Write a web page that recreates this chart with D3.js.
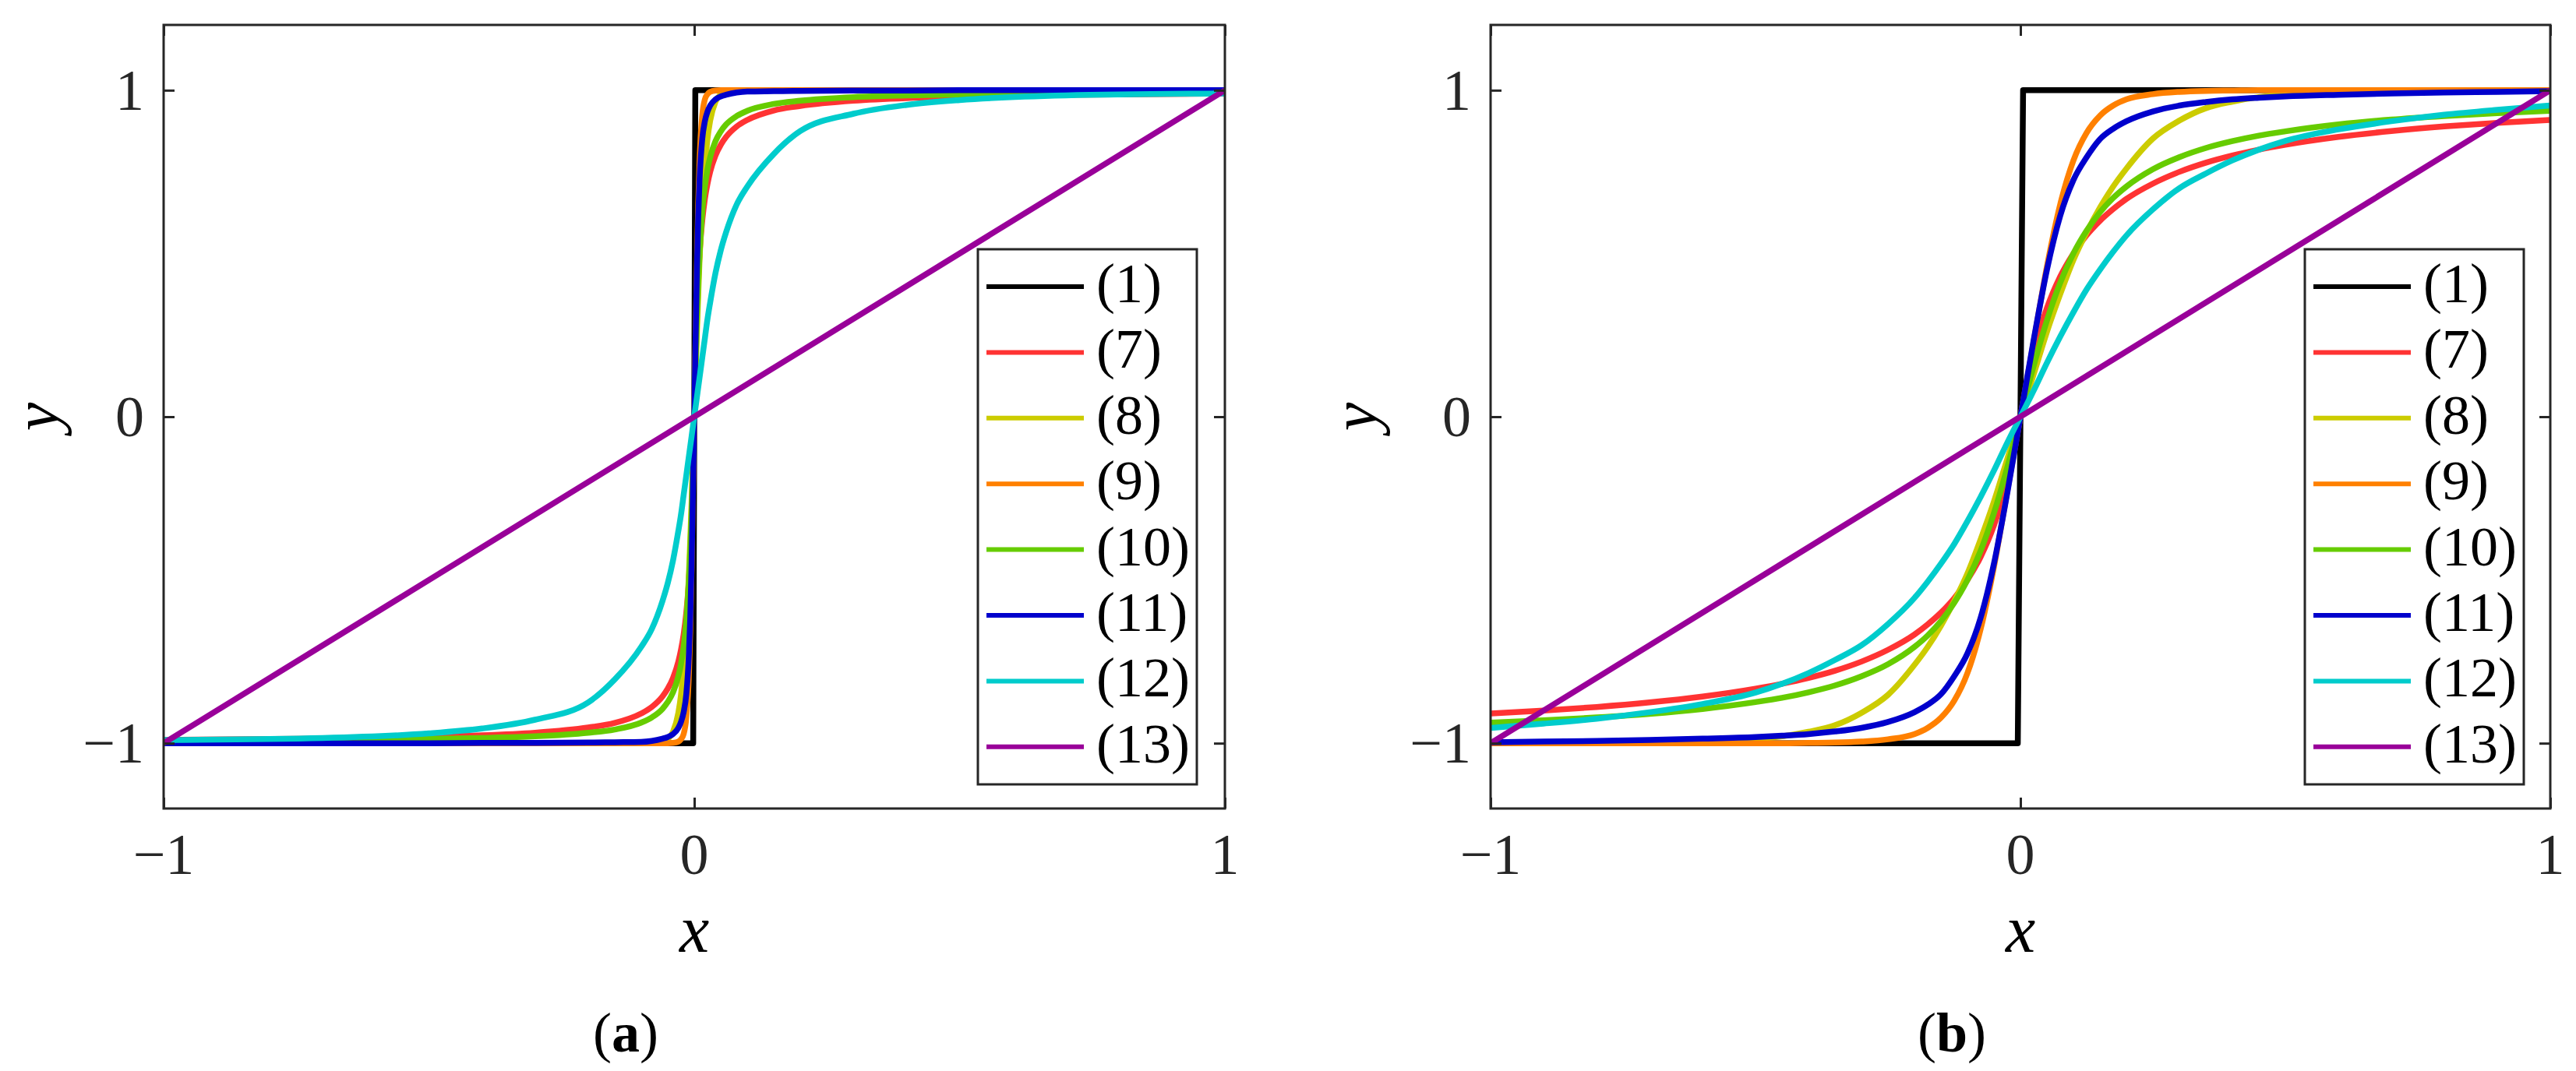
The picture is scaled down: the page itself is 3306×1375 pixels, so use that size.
<!DOCTYPE html>
<html>
<head>
<meta charset="utf-8">
<script src="https://cdn.jsdelivr.net/npm/d3@7/dist/d3.min.js"></script>
<style>
  html, body { margin: 0; padding: 0; background: #fff; }
  svg { display: block; }
</style>
</head>
<body>
<svg id="chart" width="3306" height="1375"></svg>
<script>
// ---------------- DATA ----------------
const legendLabels = ["(1)", "(7)", "(8)", "(9)", "(10)", "(11)", "(12)", "(13)"];
const seriesColors = ["#000000", "#ff3333", "#cccc00", "#ff8000", "#66cc00", "#0000cc", "#00cccc", "#990099"];
const tickValues = [-1, 0, 1];
const tickLabels = ["\u22121", "0", "1"];
const panelLabels = ["a", "b"];

// Panel (a)
const xA = [-1, -0.7, -0.5, -0.4, -0.3, -0.2, -0.15, -0.1, -0.08, -0.06, -0.05, -0.04, -0.03, -0.025, -0.02, -0.015, -0.01, -0.0075, -0.005, -0.0025,
  0, 0.0025, 0.005, 0.0075, 0.01, 0.015, 0.02, 0.025, 0.03, 0.04, 0.05, 0.06, 0.08, 0.1, 0.15, 0.2, 0.3, 0.4, 0.5, 0.7, 1];
const a1x = [-1, -0.002, 0.002, 1];
const a1y = [-1, -1, 1, 1];
const a7 = [-0.99, -0.986, -0.98, -0.976, -0.968, -0.952, -0.938, -0.909, -0.889, -0.857, -0.833, -0.8, -0.75, -0.714, -0.667, -0.6, -0.5, -0.429, -0.333, -0.2,
  0, 0.2, 0.333, 0.429, 0.5, 0.6, 0.667, 0.714, 0.75, 0.8, 0.833, 0.857, 0.889, 0.909, 0.938, 0.952, 0.968, 0.976, 0.98, 0.986, 0.99];
const a8 = [-1, -1, -1, -1, -1, -1, -1, -1, -0.999, -0.995, -0.987, -0.965, -0.907, -0.852, -0.76, -0.64, -0.48, -0.375, -0.26, -0.13,
  0, 0.13, 0.26, 0.375, 0.48, 0.64, 0.76, 0.852, 0.907, 0.965, 0.987, 0.995, 0.999, 1, 1, 1, 1, 1, 1, 1, 1];
const a9 = [-1, -1, -1, -1, -1, -1, -1, -1, -1, -1, -1, -0.999, -0.995, -0.988, -0.972, -0.922, -0.785, -0.65, -0.46, -0.23,
  0, 0.23, 0.46, 0.65, 0.785, 0.922, 0.972, 0.988, 0.995, 0.999, 1, 1, 1, 1, 1, 1, 1, 1, 1, 1, 1];
const a10 = [-0.994, -0.991, -0.987, -0.984, -0.979, -0.968, -0.958, -0.937, -0.921, -0.895, -0.874, -0.844, -0.795, -0.758, -0.705, -0.626, -0.5, -0.41, -0.295, -0.156,
  0, 0.156, 0.295, 0.41, 0.5, 0.626, 0.705, 0.758, 0.795, 0.844, 0.874, 0.895, 0.921, 0.937, 0.958, 0.968, 0.979, 0.984, 0.987, 0.991, 0.994];
const a11 = [-1, -1, -1, -0.999, -0.999, -0.998, -0.997, -0.996, -0.993, -0.986, -0.981, -0.972, -0.953, -0.935, -0.905, -0.85, -0.725, -0.615, -0.45, -0.235,
  0, 0.235, 0.45, 0.615, 0.725, 0.85, 0.905, 0.935, 0.953, 0.972, 0.981, 0.986, 0.993, 0.996, 0.997, 0.998, 0.999, 0.999, 1, 1, 1];
const a12 = [-0.99, -0.984, -0.97, -0.955, -0.928, -0.875, -0.805, -0.705, -0.65, -0.565, -0.51, -0.44, -0.35, -0.3, -0.24, -0.18, -0.12, -0.09, -0.06, -0.03,
  0, 0.03, 0.06, 0.09, 0.12, 0.18, 0.24, 0.3, 0.35, 0.44, 0.51, 0.565, 0.65, 0.705, 0.805, 0.875, 0.928, 0.955, 0.97, 0.984, 0.99];
const a13x = [-1, 1];
const a13y = [-1, 1];

// Panel (b)
const xB = [-1, -0.9, -0.8, -0.7, -0.6, -0.5, -0.45, -0.4, -0.35, -0.3, -0.25, -0.2, -0.175, -0.15, -0.125, -0.1, -0.075, -0.05, -0.025,
  0, 0.025, 0.05, 0.075, 0.1, 0.125, 0.15, 0.175, 0.2, 0.25, 0.3, 0.35, 0.4, 0.45, 0.5, 0.6, 0.7, 0.8, 0.9, 1];
const b1x = [-1, -0.005, 0.005, 1];
const b1y = [-1, -1, 1, 1];
const b7 = [-0.909, -0.9, -0.889, -0.875, -0.857, -0.833, -0.818, -0.8, -0.778, -0.75, -0.714, -0.667, -0.636, -0.6, -0.556, -0.5, -0.429, -0.333, -0.2,
  0, 0.2, 0.333, 0.429, 0.5, 0.556, 0.6, 0.636, 0.667, 0.714, 0.75, 0.778, 0.8, 0.818, 0.833, 0.857, 0.875, 0.889, 0.9, 0.909];
const b8 = [-1, -1, -0.999, -0.998, -0.995, -0.987, -0.979, -0.965, -0.945, -0.907, -0.852, -0.76, -0.705, -0.64, -0.565, -0.48, -0.375, -0.26, -0.13,
  0, 0.13, 0.26, 0.375, 0.48, 0.565, 0.64, 0.705, 0.76, 0.852, 0.907, 0.945, 0.965, 0.979, 0.987, 0.995, 0.998, 0.999, 1, 1];
const b9 = [-1, -1, -1, -1, -1, -1, -1, -0.999, -0.998, -0.995, -0.988, -0.972, -0.953, -0.922, -0.87, -0.785, -0.65, -0.46, -0.23,
  0, 0.23, 0.46, 0.65, 0.785, 0.87, 0.922, 0.953, 0.972, 0.988, 0.995, 0.998, 0.999, 1, 1, 1, 1, 1, 1, 1];
const b10 = [-0.937, -0.93, -0.921, -0.91, -0.895, -0.874, -0.861, -0.844, -0.823, -0.795, -0.758, -0.705, -0.67, -0.626, -0.57, -0.5, -0.41, -0.295, -0.156,
  0, 0.156, 0.295, 0.41, 0.5, 0.57, 0.626, 0.67, 0.705, 0.758, 0.795, 0.823, 0.844, 0.861, 0.874, 0.895, 0.91, 0.921, 0.93, 0.937];
const b11 = [-0.997, -0.995, -0.993, -0.99, -0.986, -0.981, -0.977, -0.972, -0.964, -0.953, -0.935, -0.905, -0.882, -0.85, -0.795, -0.725, -0.615, -0.45, -0.235,
  0, 0.235, 0.45, 0.615, 0.725, 0.795, 0.85, 0.882, 0.905, 0.935, 0.953, 0.964, 0.972, 0.977, 0.981, 0.986, 0.99, 0.993, 0.995, 0.997];
const b12 = [-0.953, -0.94, -0.925, -0.905, -0.88, -0.845, -0.818, -0.785, -0.745, -0.7, -0.635, -0.555, -0.505, -0.45, -0.39, -0.32, -0.245, -0.165, -0.08,
  0, 0.08, 0.165, 0.245, 0.32, 0.39, 0.45, 0.505, 0.555, 0.635, 0.7, 0.745, 0.785, 0.818, 0.845, 0.88, 0.905, 0.925, 0.94, 0.953];
const b13x = [-1, 1];
const b13y = [-1, 1];

// ---------------- DRAW ----------------
const svg = d3.select("#chart");
svg.append("rect").attr("width", 3306).attr("height", 1375).attr("fill", "#fff");

const axisColor = "#262626";
const serif = "'Liberation Serif', 'Times New Roman', serif";

function zipXY(xs, ys) { return xs.map((x, i) => [x, ys[i]]); }

const panels = [
  {
    left: 210, right: 1572, legendLeft: 1255, yLabelX: 74, captionX: 803, label: panelLabels[0],
    series: [zipXY(a1x, a1y), zipXY(xA, a7), zipXY(xA, a8), zipXY(xA, a9), zipXY(xA, a10), zipXY(xA, a11), zipXY(xA, a12), zipXY(a13x, a13y)]
  },
  {
    left: 1913, right: 3273, legendLeft: 2958, yLabelX: 1766, captionX: 2505, label: panelLabels[1],
    series: [zipXY(b1x, b1y), zipXY(xB, b7), zipXY(xB, b8), zipXY(xB, b9), zipXY(xB, b10), zipXY(xB, b11), zipXY(xB, b12), zipXY(b13x, b13y)]
  }
];

const plotTop = 32, plotBottom = 1038;

panels.forEach((p, pi) => {
  const x = d3.scaleLinear().domain([-1, 1]).range([p.left, p.right]);
  const y = d3.scaleLinear().domain([-1.2, 1.2]).range([plotBottom, plotTop]);
  const g = svg.append("g");

  const clipId = "clip" + pi;
  svg.append("clipPath").attr("id", clipId).append("rect")
    .attr("x", p.left).attr("y", plotTop).attr("width", p.right - p.left).attr("height", plotBottom - plotTop);

  // curves
  const plot = g.append("g").attr("clip-path", `url(#${clipId})`);
  p.series.forEach((pts, si) => {
    const straight = (si === 0 || si === 7);
    const line = d3.line().x(d => x(d[0])).y(d => y(d[1]))
      .curve(straight ? d3.curveLinear : d3.curveMonotoneX);
    plot.append("path").datum(pts)
      .attr("d", line)
      .attr("fill", "none")
      .attr("stroke", seriesColors[si])
      .attr("stroke-width", 7.5)
      .attr("stroke-linejoin", "round")
      .attr("stroke-linecap", "butt");
  });

  // axes with inward ticks on all four sides
  const tickLen = 14;
  const axB = d3.axisBottom(x).tickValues(tickValues).tickSize(-tickLen).tickFormat("");
  const axT = d3.axisTop(x).tickValues(tickValues).tickSize(-tickLen).tickFormat("");
  const axL = d3.axisLeft(y).tickValues(tickValues).tickSize(-tickLen).tickFormat("");
  const axR = d3.axisRight(y).tickValues(tickValues).tickSize(-tickLen).tickFormat("");
  [[axB, `translate(0,${plotBottom})`], [axT, `translate(0,${plotTop})`], [axL, `translate(${p.left},0)`], [axR, `translate(${p.right},0)`]]
    .forEach(([ax, tr]) => {
      const ag = g.append("g").attr("transform", tr).call(ax);
      ag.select(".domain").remove();
      ag.selectAll(".tick line").attr("stroke", axisColor).attr("stroke-width", 3);
    });
  g.append("rect")
    .attr("x", p.left).attr("y", plotTop)
    .attr("width", p.right - p.left).attr("height", plotBottom - plotTop)
    .attr("fill", "none").attr("stroke", axisColor).attr("stroke-width", 3);

  // tick labels
  tickValues.forEach((v, i) => {
    g.append("text")
      .attr("x", x(v)).attr("y", 1122)
      .attr("text-anchor", "middle")
      .attr("font-family", serif).attr("font-size", 74).attr("fill", axisColor)
      .text(tickLabels[i]);
    g.append("text")
      .attr("x", p.left - 25).attr("y", y(v) + 25)
      .attr("text-anchor", "end")
      .attr("font-family", serif).attr("font-size", 74).attr("fill", axisColor)
      .text(tickLabels[i]);
  });

  // axis labels
  g.append("text")
    .attr("x", (p.left + p.right) / 2).attr("y", 1222)
    .attr("text-anchor", "middle")
    .attr("font-family", serif).attr("font-style", "italic").attr("font-size", 86).attr("fill", "#000")
    .text("x");
  g.append("text")
    .attr("transform", `translate(${p.yLabelX},${y(0)}) rotate(-90)`)
    .attr("text-anchor", "middle")
    .attr("font-family", serif).attr("font-style", "italic").attr("font-size", 82).attr("fill", "#000")
    .text("y");

  // legend
  const lgTop = 320, lgH = 687, lgW = 281;
  const lg = g.append("g");
  lg.append("rect")
    .attr("x", p.legendLeft).attr("y", lgTop).attr("width", lgW).attr("height", lgH)
    .attr("fill", "#fff").attr("stroke", axisColor).attr("stroke-width", 3);
  legendLabels.forEach((lab, i) => {
    const ly = 368 + i * 84.4;
    lg.append("line")
      .attr("x1", p.legendLeft + 11).attr("x2", p.legendLeft + 136)
      .attr("y1", ly).attr("y2", ly)
      .attr("stroke", seriesColors[i]).attr("stroke-width", 6);
    lg.append("text")
      .attr("x", p.legendLeft + 152).attr("y", ly + 20)
      .attr("font-family", serif).attr("font-size", 72).attr("fill", "#000")
      .text(lab);
  });

  // caption
  const cap = g.append("text")
    .attr("x", p.captionX).attr("y", 1350)
    .attr("text-anchor", "middle")
    .attr("font-family", serif).attr("font-size", 72).attr("fill", "#000");
  cap.append("tspan").text("(");
  cap.append("tspan").attr("font-weight", "bold").text(p.label);
  cap.append("tspan").text(")");
});
</script>
</body>
</html>
